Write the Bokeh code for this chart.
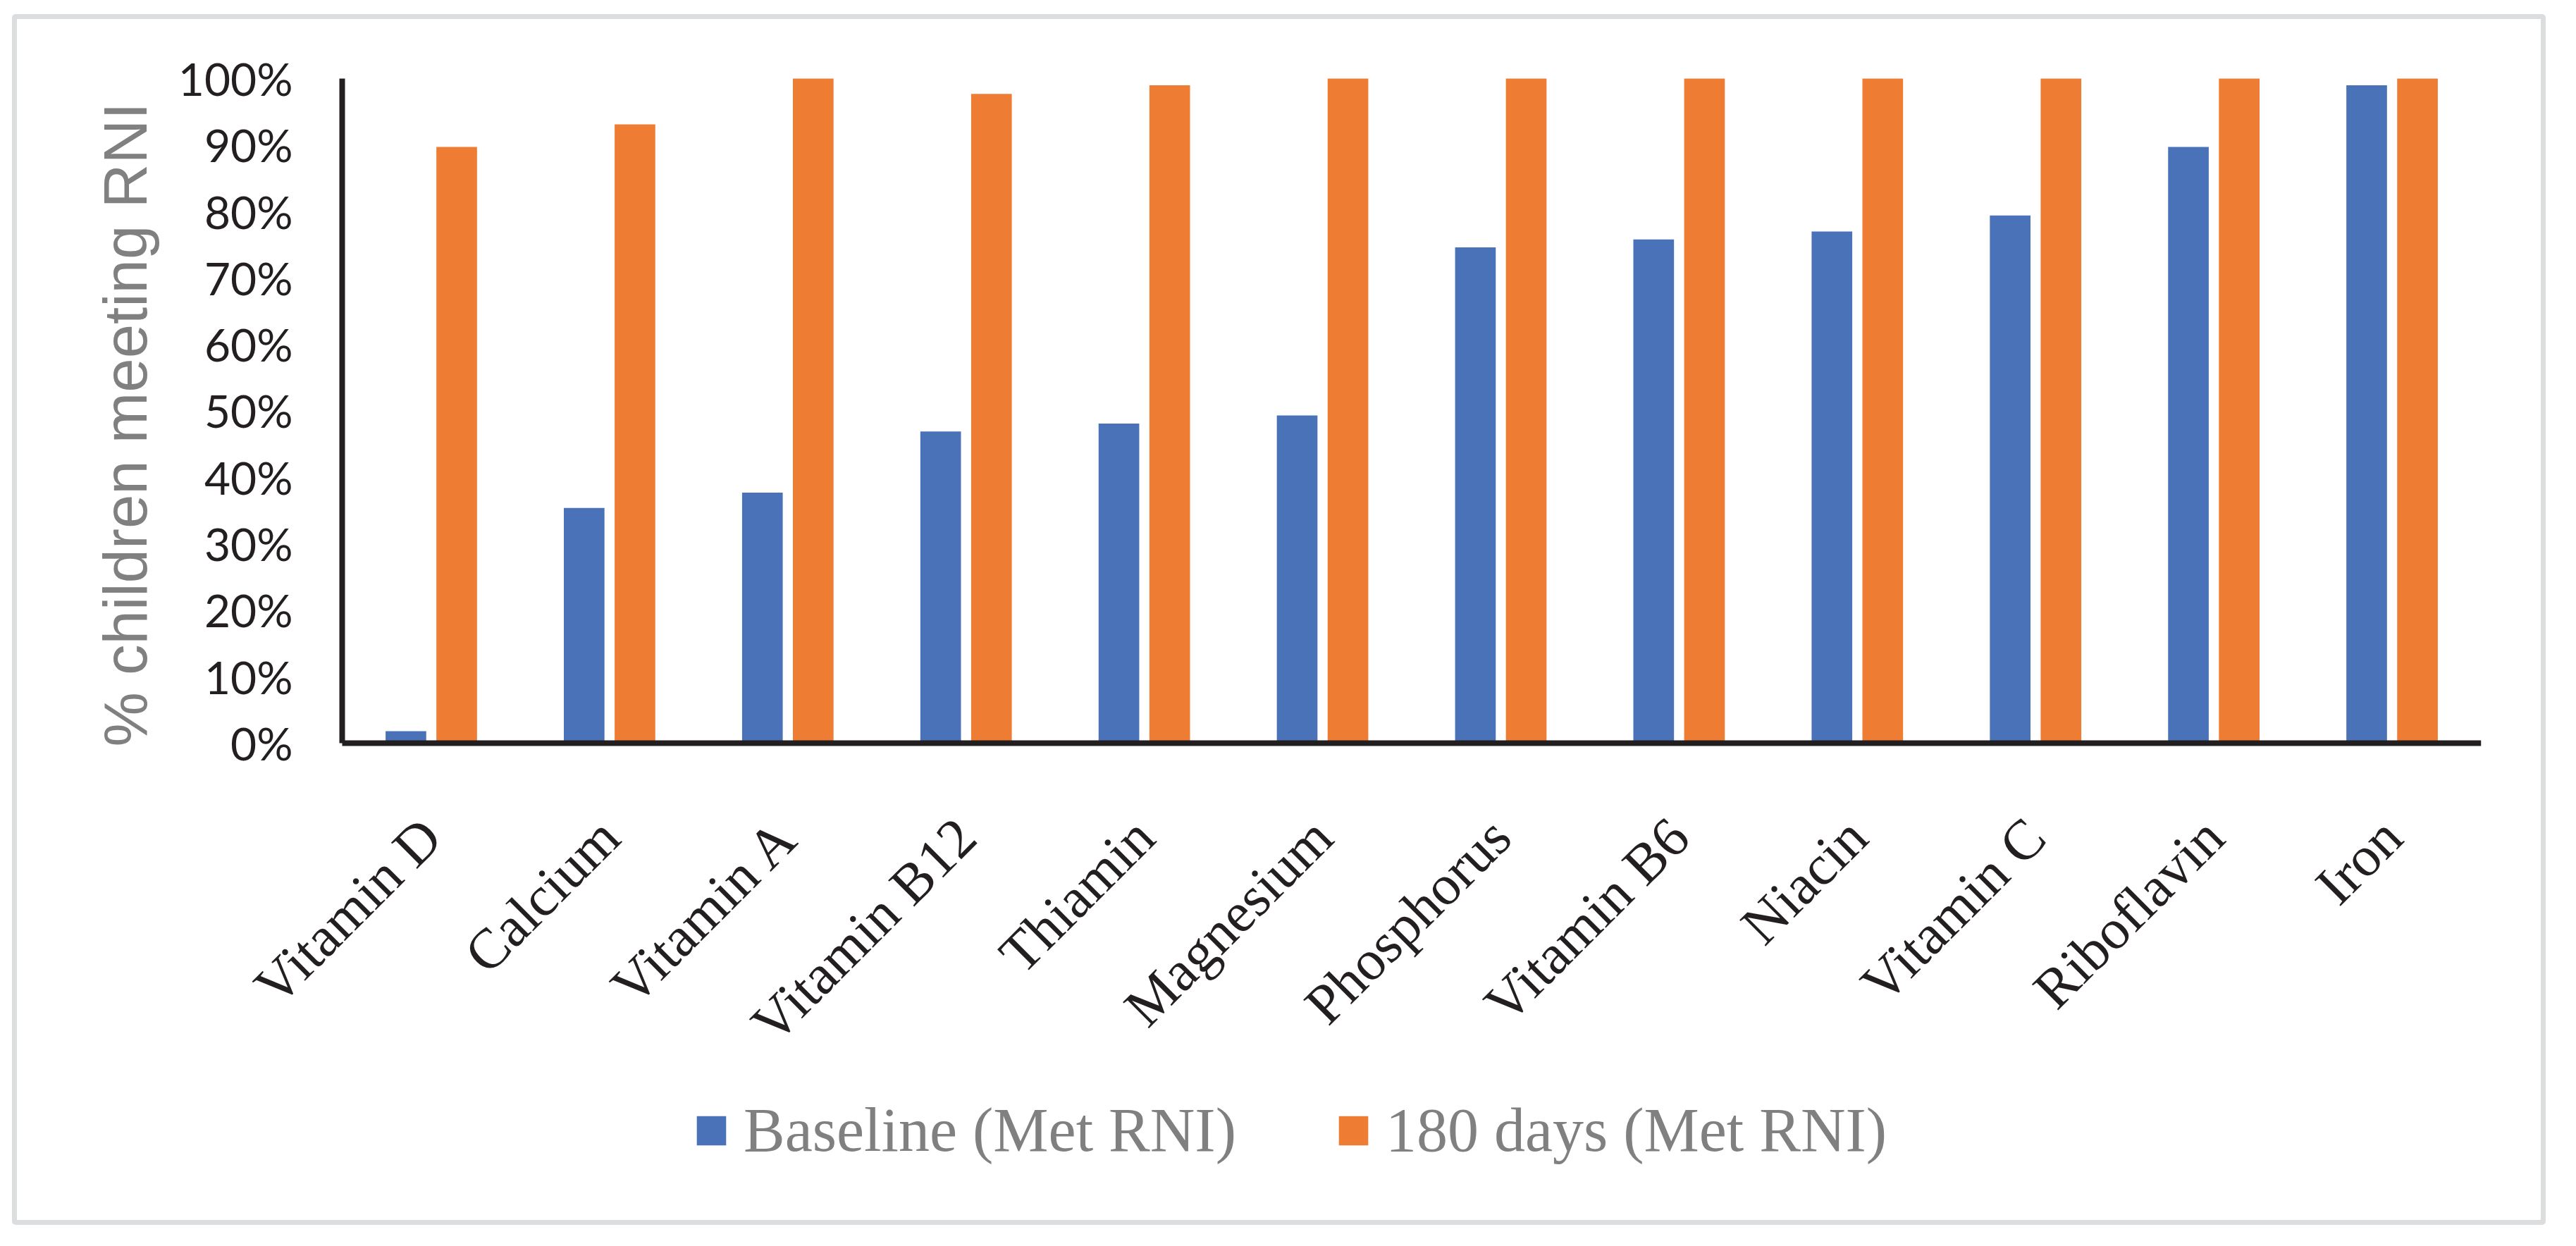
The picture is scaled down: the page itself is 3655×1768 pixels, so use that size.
import math
from bokeh.plotting import figure
from bokeh.models import (Range1d, FixedTicker, NumeralTickFormatter,
                          ColumnDataSource, Legend, LegendItem, Spacer, Title)
from bokeh.transform import dodge
from bokeh.layouts import column, row
from bokeh.embed import file_html
from bokeh.resources import INLINE

categories = ["Vitamin D", "Calcium", "Vitamin A", "Vitamin B12", "Thiamin", "Magnesium",
              "Phosphorus", "Vitamin B6", "Niacin", "Vitamin C", "Riboflavin", "Iron"]
baseline = [0.018, 0.354, 0.377, 0.469, 0.481, 0.493, 0.746, 0.758, 0.770, 0.794, 0.897, 0.990]
days180 = [0.897, 0.931, 1.0, 0.977, 0.990, 1.0, 1.0, 1.0, 1.0, 1.0, 1.0, 1.0]
y_ticks = [0, 0.1, 0.2, 0.3, 0.4, 0.5, 0.6, 0.7, 0.8, 0.9, 1.0]
series_names = ["Baseline (Met RNI)", "180 days (Met RNI)"]
y_title = "% children meeting RNI"

BLUE = "#4a72b8"
ORANGE = "#ee7d33"
AX = "#231f20"

# category i sits at x = i
positions = list(range(len(categories)))
src = ColumnDataSource(data=dict(x=positions, base=baseline, d180=days180))

# the frame reaches past the axes so the slanted labels, the top tick label and the
# legend are not clipped; the two axes are pinned at the corner (first category edge, 0 %)
W, H = 3581, 1704
x_lo, x_hi = -1.4964, len(categories) - 0.5
y_lo, y_hi = -0.7105, 1.0615
p = figure(x_range=Range1d(x_lo, x_hi), y_range=Range1d(y_lo, y_hi),
           width=W, height=H, output_backend="svg", toolbar_location=None,
           min_border_left=209, min_border_right=85, min_border_top=26, min_border_bottom=7)
p.outline_line_color = None
p.xgrid.grid_line_color = None
p.ygrid.grid_line_color = None

r1 = p.vbar(x=dodge("x", -0.1425), top="base", width=0.228,
            source=src, fill_color=BLUE, line_color=None)
r2 = p.vbar(x=dodge("x", 0.1425), top="d180", width=0.228,
            source=src, fill_color=ORANGE, line_color=None)

# y axis
ya = p.yaxis[0]
ya.fixed_location = -0.5
ya.bounds = (0, 1)
ya.ticker = FixedTicker(ticks=y_ticks)
ya.formatter = NumeralTickFormatter(format="0%")
ya.axis_line_color = AX
ya.axis_line_width = 8
ya.major_tick_line_color = None
ya.minor_tick_line_color = None
ya.major_tick_out = 0
ya.major_tick_in = 0
ya.major_label_text_font = "Lato"
ya.major_label_text_font_size = "64px"
ya.major_label_text_color = AX
ya.major_label_standoff = 70

p.add_layout(Title(text=y_title, align="left", offset=665, standoff=16,
                   vertical_align="bottom", text_font="Liberation Sans",
                   text_font_style="normal", text_font_size="87px",
                   text_color="#808080"), "left")

# x axis drawn at the 0% line
xa = p.xaxis[0]
xa.fixed_location = 0
xa.bounds = (-0.5, len(categories) - 0.5)
xa.ticker = FixedTicker(ticks=positions)
xa.major_label_overrides = {i: c for i, c in zip(positions, categories)}
xa.axis_line_color = AX
xa.axis_line_width = 8
xa.major_tick_line_color = None
xa.minor_tick_line_color = None
xa.major_tick_out = 0
xa.major_tick_in = 0
xa.major_label_orientation = math.pi / 4
xa.major_label_text_font = "Liberation Serif"
xa.major_label_text_font_style = "normal"
xa.major_label_text_font_size = "80px"
xa.major_label_text_color = AX
xa.major_label_standoff = 120

legend = Legend(items=[LegendItem(label=series_names[0], renderers=[r1]),
                       LegendItem(label=series_names[1], renderers=[r2])],
                orientation="horizontal", location=(750, 70))
legend.border_line_color = None
legend.background_fill_alpha = 0
legend.margin = 0
legend.padding = 0
legend.glyph_width = 52
legend.glyph_height = 52
legend.label_standoff = 20
legend.spacing = 140
legend.label_text_font = "Liberation Serif"
legend.label_text_font_size = "88px"
legend.label_text_color = "#808080"
p.add_layout(legend, "center")

boxed = column(p, styles={"border": "7px solid #dcdddf", "border-radius": "5px"})
lay = column(Spacer(height=20), row(Spacer(width=17), boxed))

open("out.html", "w").write(file_html(lay, INLINE))
